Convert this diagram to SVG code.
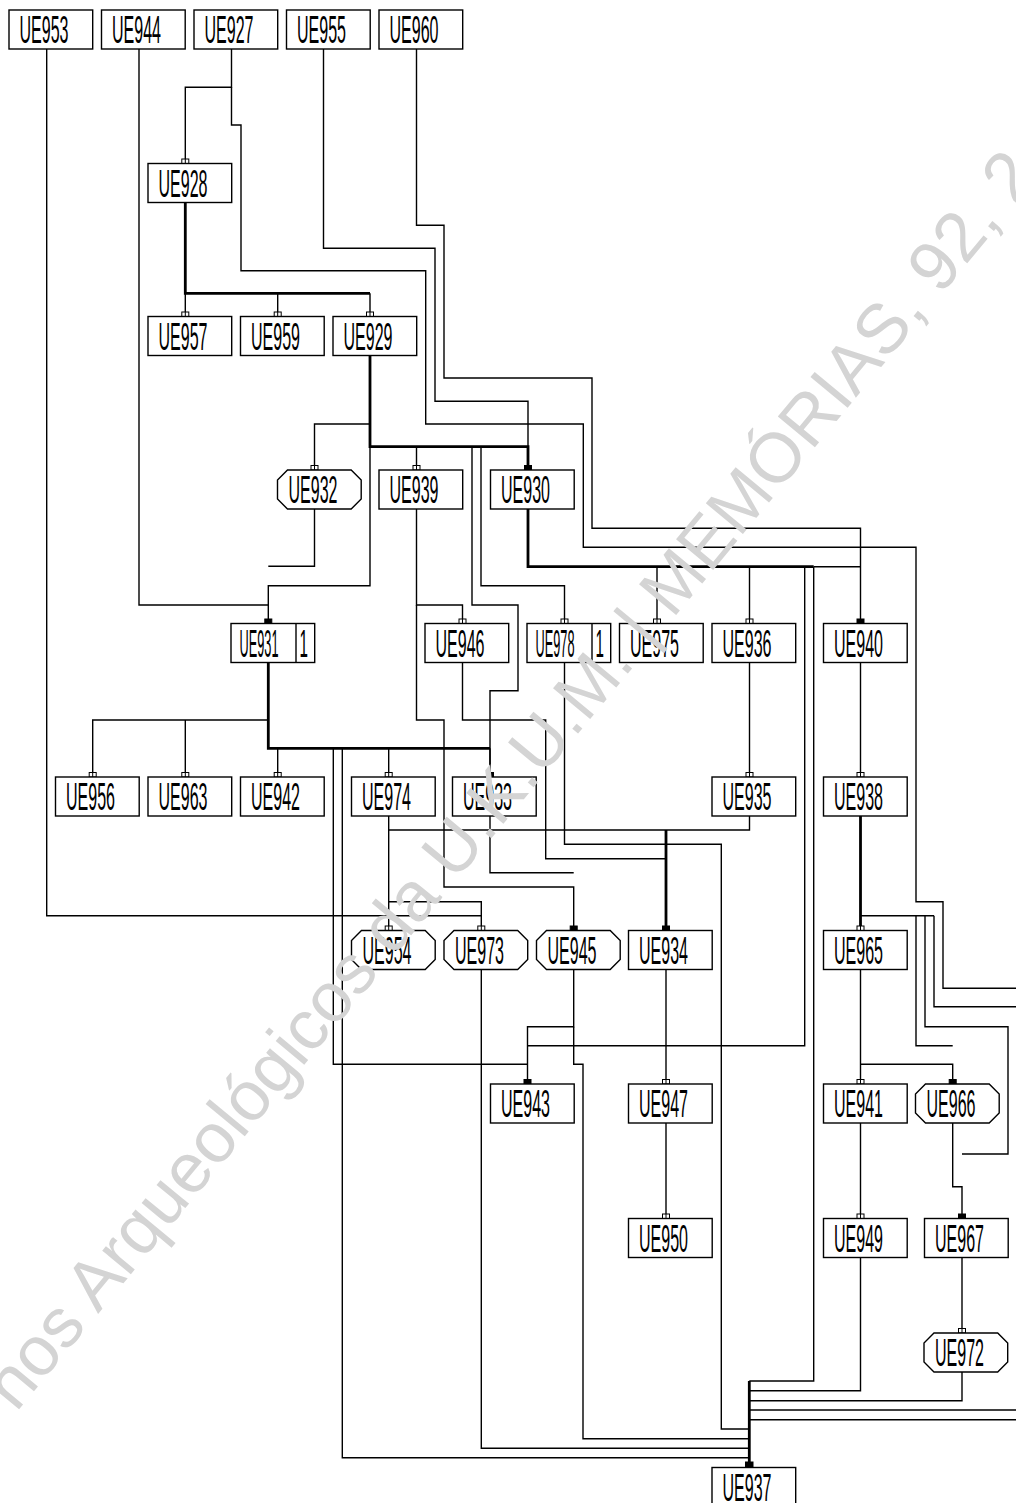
<svg xmlns="http://www.w3.org/2000/svg" xmlns:xlink="http://www.w3.org/1999/xlink" width="1016" height="1503" viewBox="0 0 1016 1503">
<style>
.bx{fill:#fff;stroke:#000;stroke-width:1.4}
.lb{font-family:"Liberation Sans",Arial,sans-serif;font-size:39px;fill:#000}
.c{fill:none;stroke:#000;stroke-width:1.4}
.t{fill:none;stroke:#000;stroke-width:2.8}
.tk{fill:#fff;stroke:#000;stroke-width:1}
.tf{fill:#000;stroke:#000;stroke-width:1}
.wm{font-family:"Liberation Sans",Arial,sans-serif;font-size:70px;fill:#d4d4d4}
</style>
<defs>
<g id="tick"><rect class="tk" x="-3.5" y="-4.5" width="7" height="4.5"/><line x1="0" y1="-4.5" x2="0" y2="0" stroke="#000" stroke-width="1"/></g>
<g id="tickf"><rect class="tf" x="-3.5" y="-4.5" width="7" height="4.5"/></g>
</defs>
<rect x="0" y="0" width="1016" height="1503" fill="#fff"/>
<g id="connectors">
<path class="c" d="M46.7,49 V915.7 H481.3"/>
<path class="c" d="M139,49 V605 H268.3"/>
<path class="c" d="M231.5,49 V87.3 H185.3 V163.5"/>
<path class="c" d="M231.5,87.3 V125 H241 V270.7 H425.7 V424 H583.3 V547.3 H916 V901.7 H943 V988.3 H1016"/>
<path class="c" d="M323.5,49 V248.3 H435 V401.3 H528 V470"/>
<path class="c" d="M416.5,49 V225.3 H444 V378 H592 V528.3 H860.5 V623.5"/>
<path class="t" d="M185.3,202.5 V293.3 H370"/>
<path class="c" d="M185.3,293.3 V316.5 M277.7,293.3 V316.5 M370,293.3 V316.5"/>
<path class="t" d="M370,355.5 V446.7 H528 V470"/>
<path class="c" d="M370,446.7 V585.7 H268.3 V623.5"/>
<path class="c" d="M370,424 H314.5 V470"/>
<path class="c" d="M416.5,446.7 V470"/>
<path class="c" d="M472,446.7 V605 H518 V690.7 H490 V777"/>
<path class="c" d="M481,446.7 V585.7 H564.5 V623.5"/>
<path class="c" d="M314.5,509 V566.3 H268.3"/>
<path class="c" d="M416.5,509 V605 H462.5 V623.5"/>
<path class="c" d="M416.5,605 V720 H444 V887 H573.7 V930.5"/>
<path class="t" d="M528,509 V566.7 H813.7"/>
<path class="c" d="M813.7,566.7 H860.5"/>
<path class="c" d="M657,566.7 V623.5 M749.5,566.7 V623.5"/>
<path class="c" d="M804.7,566.7 V1045.7 H527.5"/>
<path class="c" d="M813.7,566.7 V1381 H749.3"/>
<path class="t" d="M268.3,662.5 V748.3 H490"/>
<path class="c" d="M268.3,720 H92.7 V777 M185.3,720 V777"/>
<path class="c" d="M277.7,748.3 V777 M388.7,748.3 V777 M490,748.3 V777"/>
<path class="c" d="M333.3,748.3 V1064.3 H527.5"/>
<path class="c" d="M342.3,748.3 V1457.7 H749.3"/>
<path class="c" d="M462.5,662.5 V720 H545.7 V858.7 H666"/>
<path class="c" d="M564.5,662.5 V844.3 H721.3 V1429 H749.3"/>
<path class="c" d="M749.5,662.5 V777"/>
<path class="c" d="M860.5,662.5 V777"/>
<path class="c" d="M388.7,816 V930.5"/>
<path class="c" d="M388.7,901.7 H481.3 V930.5"/>
<path class="c" d="M388.7,830 H749.5 V816"/>
<path class="c" d="M490,816 V872.7 H573.7"/>
<path class="t" d="M666,830 V930.5"/>
<path class="t" d="M860.5,816 V930.5"/>
<path class="c" d="M860.5,915.7 H934"/>
<path class="c" d="M916,915.7 V1045.7 H952.7"/>
<path class="c" d="M925,915.7 V1026.7 H1008 V1154 H962"/>
<path class="c" d="M934,915.7 V1006.7 H1016"/>
<path class="c" d="M481.3,969.5 V1448.3 H749.3"/>
<path class="c" d="M573.7,969.5 V1026.7 H527.5 V1084"/>
<path class="c" d="M573.7,1026.7 V1064.3 H583 V1438.7 H749.3"/>
<path class="c" d="M666,969.5 V1084"/>
<path class="c" d="M860.5,969.5 V1084"/>
<path class="c" d="M860.5,1064.3 H952.7 V1084"/>
<path class="c" d="M666,1123 V1218.5"/>
<path class="c" d="M860.5,1123 V1218.5"/>
<path class="c" d="M952.7,1123 V1186.7 H962 V1218.5"/>
<path class="c" d="M860.5,1257.5 V1390.7 H749.3"/>
<path class="c" d="M962,1257.5 V1333"/>
<path class="c" d="M962,1372 V1400.7 H749.3"/>
<path class="c" d="M1016,1410 H749.3 M1016,1419.7 H749.3"/>
<path class="t" d="M749.3,1381 V1467.5"/>
<use xlink:href="#tick" x="185.3" y="163.5"/>
<use xlink:href="#tick" x="185.3" y="316.5"/>
<use xlink:href="#tick" x="277.7" y="316.5"/>
<use xlink:href="#tick" x="370" y="316.5"/>
<use xlink:href="#tick" x="314.5" y="470"/>
<use xlink:href="#tick" x="416.5" y="470"/>
<use xlink:href="#tickf" x="528" y="470"/>
<use xlink:href="#tickf" x="268.3" y="623.5"/>
<use xlink:href="#tick" x="462.5" y="623.5"/>
<use xlink:href="#tick" x="564.5" y="623.5"/>
<use xlink:href="#tick" x="657" y="623.5"/>
<use xlink:href="#tick" x="749.5" y="623.5"/>
<use xlink:href="#tickf" x="860.5" y="623.5"/>
<use xlink:href="#tick" x="92.7" y="777"/>
<use xlink:href="#tick" x="185.3" y="777"/>
<use xlink:href="#tick" x="277.7" y="777"/>
<use xlink:href="#tick" x="388.7" y="777"/>
<use xlink:href="#tickf" x="490" y="777"/>
<use xlink:href="#tick" x="749.5" y="777"/>
<use xlink:href="#tick" x="860.5" y="777"/>
<use xlink:href="#tick" x="388.7" y="930.5"/>
<use xlink:href="#tick" x="481.3" y="930.5"/>
<use xlink:href="#tickf" x="573.7" y="930.5"/>
<use xlink:href="#tickf" x="666" y="930.5"/>
<use xlink:href="#tick" x="860.5" y="930.5"/>
<use xlink:href="#tickf" x="527.5" y="1084"/>
<use xlink:href="#tick" x="666" y="1084"/>
<use xlink:href="#tick" x="860.5" y="1084"/>
<use xlink:href="#tickf" x="952.7" y="1084"/>
<use xlink:href="#tick" x="666" y="1218.5"/>
<use xlink:href="#tick" x="860.5" y="1218.5"/>
<use xlink:href="#tickf" x="962" y="1218.5"/>
<use xlink:href="#tick" x="962" y="1333"/>
<rect x="745" y="1461.5" width="8.5" height="6" fill="#000"/>
</g>
<g id="nodes">
<g id="UE953"><rect class="bx" x="9" y="10" width="83.7" height="39"/><text class="lb" transform="translate(19.5,43.3) scale(0.411,1)">UE953</text></g>
<g id="UE944"><rect class="bx" x="101.5" y="10" width="83.7" height="39"/><text class="lb" transform="translate(112,43.3) scale(0.411,1)">UE944</text></g>
<g id="UE927"><rect class="bx" x="194" y="10" width="83.7" height="39"/><text class="lb" transform="translate(204.5,43.3) scale(0.411,1)">UE927</text></g>
<g id="UE955"><rect class="bx" x="286.5" y="10" width="83.7" height="39"/><text class="lb" transform="translate(297,43.3) scale(0.411,1)">UE955</text></g>
<g id="UE960"><rect class="bx" x="379" y="10" width="83.7" height="39"/><text class="lb" transform="translate(389.5,43.3) scale(0.411,1)">UE960</text></g>
<g id="UE928"><rect class="bx" x="148" y="163.5" width="83.7" height="39"/><text class="lb" transform="translate(158.5,196.8) scale(0.411,1)">UE928</text></g>
<g id="UE957"><rect class="bx" x="148" y="316.5" width="83.7" height="39"/><text class="lb" transform="translate(158.5,349.8) scale(0.411,1)">UE957</text></g>
<g id="UE959"><rect class="bx" x="240.5" y="316.5" width="83.7" height="39"/><text class="lb" transform="translate(251,349.8) scale(0.411,1)">UE959</text></g>
<g id="UE929"><rect class="bx" x="333" y="316.5" width="83.7" height="39"/><text class="lb" transform="translate(343.5,349.8) scale(0.411,1)">UE929</text></g>
<g id="UE932"><path class="bx" d="M287.5,470 H351.2 L361.2,480 V499 L351.2,509 H287.5 L277.5,499 V480 Z"/><text class="lb" transform="translate(288.5,503.3) scale(0.411,1)">UE932</text></g>
<g id="UE939"><rect class="bx" x="379" y="470" width="83.7" height="39"/><text class="lb" transform="translate(389.5,503.3) scale(0.411,1)">UE939</text></g>
<g id="UE930"><rect class="bx" x="490.5" y="470" width="83.7" height="39"/><text class="lb" transform="translate(501,503.3) scale(0.411,1)">UE930</text></g>
<g id="UE931"><rect class="bx" x="231" y="623.5" width="83.7" height="39"/><line x1="296" y1="623.5" x2="296" y2="662.5" stroke="#000" stroke-width="1.4"/><text class="lb" transform="translate(239.5,656.8) scale(0.327,1)">UE931</text><text class="lb" transform="translate(299.5,656.8) scale(0.39,1)">1</text></g>
<g id="UE946"><rect class="bx" x="425" y="623.5" width="83.7" height="39"/><text class="lb" transform="translate(435.5,656.8) scale(0.411,1)">UE946</text></g>
<g id="UE978"><rect class="bx" x="527" y="623.5" width="83.7" height="39"/><line x1="592" y1="623.5" x2="592" y2="662.5" stroke="#000" stroke-width="1.4"/><text class="lb" transform="translate(535.5,656.8) scale(0.327,1)">UE978</text><text class="lb" transform="translate(595.5,656.8) scale(0.39,1)">1</text></g>
<g id="UE975"><rect class="bx" x="619.5" y="623.5" width="83.7" height="39"/><text class="lb" transform="translate(630,656.8) scale(0.411,1)">UE975</text></g>
<g id="UE936"><rect class="bx" x="712" y="623.5" width="83.7" height="39"/><text class="lb" transform="translate(722.5,656.8) scale(0.411,1)">UE936</text></g>
<g id="UE940"><rect class="bx" x="823.5" y="623.5" width="83.7" height="39"/><text class="lb" transform="translate(834,656.8) scale(0.411,1)">UE940</text></g>
<g id="UE956"><rect class="bx" x="55.5" y="777" width="83.7" height="39"/><text class="lb" transform="translate(66,810.3) scale(0.411,1)">UE956</text></g>
<g id="UE963"><rect class="bx" x="148" y="777" width="83.7" height="39"/><text class="lb" transform="translate(158.5,810.3) scale(0.411,1)">UE963</text></g>
<g id="UE942"><rect class="bx" x="240.5" y="777" width="83.7" height="39"/><text class="lb" transform="translate(251,810.3) scale(0.411,1)">UE942</text></g>
<g id="UE974"><rect class="bx" x="351.5" y="777" width="83.7" height="39"/><text class="lb" transform="translate(362,810.3) scale(0.411,1)">UE974</text></g>
<g id="UE933"><rect class="bx" x="452.5" y="777" width="83.7" height="39"/><text class="lb" transform="translate(463,810.3) scale(0.411,1)">UE933</text></g>
<g id="UE935"><rect class="bx" x="712" y="777" width="83.7" height="39"/><text class="lb" transform="translate(722.5,810.3) scale(0.411,1)">UE935</text></g>
<g id="UE938"><rect class="bx" x="823.5" y="777" width="83.7" height="39"/><text class="lb" transform="translate(834,810.3) scale(0.411,1)">UE938</text></g>
<g id="UE954"><path class="bx" d="M361.5,930.5 H425.2 L435.2,940.5 V959.5 L425.2,969.5 H361.5 L351.5,959.5 V940.5 Z"/><text class="lb" transform="translate(362.5,963.8) scale(0.411,1)">UE954</text></g>
<g id="UE973"><path class="bx" d="M454,930.5 H517.7 L527.7,940.5 V959.5 L517.7,969.5 H454 L444,959.5 V940.5 Z"/><text class="lb" transform="translate(455,963.8) scale(0.411,1)">UE973</text></g>
<g id="UE945"><path class="bx" d="M546.5,930.5 H610.2 L620.2,940.5 V959.5 L610.2,969.5 H546.5 L536.5,959.5 V940.5 Z"/><text class="lb" transform="translate(547.5,963.8) scale(0.411,1)">UE945</text></g>
<g id="UE934"><rect class="bx" x="628.5" y="930.5" width="83.7" height="39"/><text class="lb" transform="translate(639,963.8) scale(0.411,1)">UE934</text></g>
<g id="UE965"><rect class="bx" x="823.5" y="930.5" width="83.7" height="39"/><text class="lb" transform="translate(834,963.8) scale(0.411,1)">UE965</text></g>
<g id="UE943"><rect class="bx" x="490.5" y="1084" width="83.7" height="39"/><text class="lb" transform="translate(501,1117.3) scale(0.411,1)">UE943</text></g>
<g id="UE947"><rect class="bx" x="628.5" y="1084" width="83.7" height="39"/><text class="lb" transform="translate(639,1117.3) scale(0.411,1)">UE947</text></g>
<g id="UE941"><rect class="bx" x="823.5" y="1084" width="83.7" height="39"/><text class="lb" transform="translate(834,1117.3) scale(0.411,1)">UE941</text></g>
<g id="UE966"><path class="bx" d="M925.5,1084 H989.2 L999.2,1094 V1113 L989.2,1123 H925.5 L915.5,1113 V1094 Z"/><text class="lb" transform="translate(926.5,1117.3) scale(0.411,1)">UE966</text></g>
<g id="UE950"><rect class="bx" x="628.5" y="1218.5" width="83.7" height="39"/><text class="lb" transform="translate(639,1251.8) scale(0.411,1)">UE950</text></g>
<g id="UE949"><rect class="bx" x="823.5" y="1218.5" width="83.7" height="39"/><text class="lb" transform="translate(834,1251.8) scale(0.411,1)">UE949</text></g>
<g id="UE967"><rect class="bx" x="924.5" y="1218.5" width="83.7" height="39"/><text class="lb" transform="translate(935,1251.8) scale(0.411,1)">UE967</text></g>
<g id="UE972"><path class="bx" d="M934,1333 H997.7 L1007.7,1343 V1362 L997.7,1372 H934 L924,1362 V1343 Z"/><text class="lb" transform="translate(935,1366.3) scale(0.411,1)">UE972</text></g>
<g id="UE937"><rect class="bx" x="712" y="1467.5" width="83.7" height="39"/><text class="lb" transform="translate(722.5,1500.8) scale(0.411,1)">UE937</text></g>
</g>
<text class="wm" transform="translate(16,1413) rotate(-50.4)">nos Arqueológicos da U.K.U.M. | MEMÓRIAS, 92, 2</text>
</svg>
